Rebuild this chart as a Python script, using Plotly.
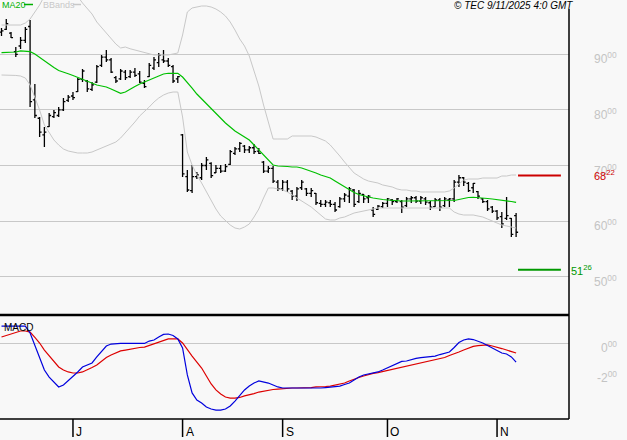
import pandas as pd
import plotly.graph_objects as go

# ---------------- data ----------------
dates = pd.bdate_range("2025-06-10", "2025-11-07")
month_labels = ["J", "A", "S", "O", "N"]

opens = [9400, 9450, 9380, 9050, 9150, 9250, 9500, 8180, 7850, 7550,
         7700, 7880, 7900, 8000, 8170, 8250, 8330, 8550, 8520, 8370,
         8500, 8800, 8950, 8900, 8580, 8560, 8680, 8600, 8680, 8650,
         8480, 8600, 8750, 8850, 8900, 8880, 8780, 8560, 7550, 6800,
         6550, 6800, 6780, 7000, 7040, 6870, 6950, 6900, 7020, 7220,
         7300, 7350, 7280, 7320, 7260, 7060, 6900, 6950, 6700, 6580,
         6700, 6540, 6450, 6600, 6580, 6500, 6500, 6320, 6300, 6330,
         6300, 6260, 6400, 6450, 6560, 6350, 6480, 6420, 6200, 6210,
         6260, 6320, 6380, 6350, 6350, 6280, 6400, 6420, 6360, 6400,
         6330, 6260, 6380, 6280, 6380, 6400, 6700, 6780, 6680, 6600,
         6530, 6400, 6350, 6250, 6180, 6080, 6050, 6050, 6100]
highs = [9473, 9635, 9401, 9132, 9311, 9491, 9617, 8466, 7873, 7693,
         7944, 7998, 8052, 8214, 8268, 8322, 8574, 8736, 8538, 8502,
         8808, 8988, 9078, 8934, 8610, 8736, 8718, 8718, 8754, 8700,
         8538, 8844, 8952, 9024, 9078, 8934, 8808, 8610, 7567, 6919,
         7009, 6883, 7045, 7153, 7060, 7009, 7009, 7027, 7279, 7333,
         7423, 7369, 7351, 7387, 7315, 7081, 6991, 6991, 6739, 6739,
         6739, 6559, 6613, 6739, 6595, 6595, 6505, 6380, 6380, 6380,
         6344, 6434, 6505, 6613, 6577, 6559, 6487, 6469, 6254, 6290,
         6344, 6416, 6398, 6416, 6380, 6434, 6451, 6451, 6451, 6434,
         6362, 6416, 6416, 6434, 6416, 6739, 6829, 6793, 6703, 6685,
         6541, 6416, 6380, 6272, 6200, 6164, 6434, 6056, 6146]
lows = [9329, 9437, 9293, 8952, 9096, 9203, 8052, 7854, 7513, 7333,
        7693, 7854, 7873, 7980, 8142, 8178, 8322, 8502, 8322, 8340,
        8484, 8772, 8862, 8664, 8484, 8538, 8538, 8574, 8592, 8484,
        8394, 8592, 8718, 8772, 8844, 8772, 8484, 8484, 6793, 6523,
        6505, 6757, 6739, 6919, 6775, 6865, 6865, 6883, 7009, 7189,
        7243, 7225, 7225, 7207, 7207, 6865, 6865, 6685, 6541, 6541,
        6523, 6380, 6362, 6559, 6451, 6433, 6290, 6254, 6254, 6254,
        6164, 6240, 6344, 6326, 6254, 6326, 6326, 6326, 6074, 6200,
        6236, 6254, 6290, 6326, 6146, 6254, 6326, 6326, 6308, 6290,
        6200, 6254, 6182, 6254, 6254, 6344, 6613, 6631, 6523, 6505,
        6398, 6326, 6182, 6146, 6020, 5876, 6020, 5714, 5714]
closes = [9420, 9550, 9300, 9000, 9250, 9450, 8150, 7900, 7600, 7600,
          7900, 7950, 8000, 8150, 8230, 8220, 8550, 8700, 8380, 8450,
          8780, 8950, 8900, 8680, 8520, 8700, 8580, 8680, 8620, 8500,
          8420, 8800, 8900, 8980, 8880, 8800, 8520, 8600, 6850, 6560,
          6800, 6830, 7000, 7100, 6820, 6950, 6900, 6980, 7250, 7300,
          7400, 7280, 7320, 7250, 7220, 6900, 6950, 6720, 6580, 6700,
          6580, 6450, 6580, 6700, 6500, 6550, 6330, 6300, 6340, 6300,
          6200, 6400, 6470, 6580, 6300, 6500, 6400, 6450, 6120, 6270,
          6320, 6400, 6350, 6400, 6250, 6400, 6420, 6360, 6420, 6340,
          6250, 6380, 6250, 6400, 6400, 6700, 6780, 6700, 6550, 6680,
          6450, 6350, 6220, 6180, 6060, 5950, 6100, 5760, 5800]

ma20 = [9029, 9029, 9033, 9042, 9063, 9060, 9047, 9006, 8943, 8880,
        8817, 8763, 8709, 8673, 8650, 8619, 8583, 8556, 8520, 8484,
        8448, 8430, 8412, 8376, 8331, 8299, 8322, 8376, 8421, 8466,
        8502, 8547, 8583, 8610, 8646, 8659, 8659, 8659, 8592, 8502,
        8394, 8286, 8196, 8106, 8017, 7927, 7855, 7765, 7693, 7621,
        7567, 7513, 7459, 7369, 7279, 7189, 7099, 7009, 6991, 6991,
        6982, 6973, 6973, 6955, 6928, 6892, 6865, 6829, 6802, 6775,
        6721, 6668, 6614, 6560, 6515, 6479, 6452, 6434, 6416, 6398,
        6389, 6380, 6371, 6362, 6362, 6362, 6362, 6362, 6362, 6362,
        6362, 6362, 6362, 6362, 6362, 6371, 6389, 6407, 6425, 6429,
        6425, 6416, 6407, 6398, 6389, 6380, 6367, 6353, 6338]
bb_upper = [9527, 9527, 9527, 9527, 9527, 9563, 9635, 9761, 9887, 10050,
            10150, 10200, 10220, 10200, 10180, 10120, 10040, 9923, 9833, 9725,
            9581, 9480, 9383, 9280, 9185, 9114, 9131, 9100, 9078, 9050,
            9024, 9000, 8988, 8988, 8988, 8988, 9006, 9024, 9347, 9761,
            9833, 9851, 9869, 9869, 9851, 9815, 9761, 9689, 9581, 9437,
            9275, 9150, 8970, 8700, 8430, 8088, 7764, 7477, 7477, 7477,
            7477, 7531, 7531, 7531, 7531, 7531, 7513, 7477, 7441, 7369,
            7279, 7171, 7063, 6955, 6865, 6811, 6757, 6721, 6703, 6685,
            6650, 6632, 6614, 6578, 6560, 6560, 6542, 6542, 6524, 6524,
            6524, 6524, 6524, 6524, 6542, 6596, 6668, 6739, 6757, 6757,
            6757, 6775, 6775, 6775, 6775, 6811, 6811, 6829, 6829]
bb_lower = [8628, 8628, 8628, 8620, 8610, 8574, 8448, 8232, 7998, 7729,
            7585, 7459, 7369, 7297, 7261, 7243, 7225, 7225, 7225, 7243,
            7279, 7315, 7351, 7387, 7423, 7495, 7585, 7675, 7783, 7891,
            7963, 8052, 8142, 8214, 8268, 8304, 8322, 8322, 7873, 7243,
            7009, 6829, 6685, 6524, 6380, 6218, 6092, 6002, 5930, 5876,
            5858, 5894, 5948, 6074, 6218, 6416, 6596, 6596, 6578, 6560,
            6524, 6470, 6416, 6362, 6308, 6254, 6182, 6110, 6038, 6020,
            6020, 6056, 6074, 6110, 6146, 6164, 6182, 6200, 6218, 6236,
            6236, 6236, 6236, 6236, 6236, 6236, 6236, 6236, 6236, 6236,
            6236, 6236, 6236, 6236, 6236, 6164, 6128, 6110, 6110, 6110,
            6092, 6074, 6038, 6002, 5966, 5930, 5912, 5894, 5876]

macd = [115, 115, 115, 115, 115, 115, 69, -11, -98, -178,
        -225, -258, -291, -278, -251, -218, -191, -158, -145, -131,
        -91, -51, -18, -5, -1, -1, -1, -1, -1, -5,
        -1, 15, 22, 42, 59, 62, 52, 29, -31, -211,
        -331, -378, -398, -425, -438, -445, -445, -438, -418, -385,
        -351, -311, -285, -265, -251, -258, -265, -278, -291, -298,
        -298, -301, -298, -298, -298, -298, -298, -298, -295, -291,
        -291, -285, -275, -265, -245, -225, -211, -205, -201, -191,
        -178, -165, -151, -135, -121, -118, -108, -101, -95, -91,
        -88, -85, -75, -65, -58, -28, 5, 22, 29, 25,
        15, 2, -15, -31, -51, -65, -71, -91, -125]
signal = [42, 52, 62, 72, 82, 82, 75, 39, 2, -45,
          -85, -125, -158, -178, -191, -198, -198, -191, -178, -161,
          -145, -118, -95, -78, -65, -51, -45, -38, -31, -28,
          -25, -15, -5, 5, 19, 29, 29, 29, 2, -45,
          -85, -125, -165, -218, -271, -311, -338, -358, -365, -365,
          -361, -351, -345, -335, -325, -318, -311, -308, -305, -301,
          -298, -298, -298, -298, -295, -295, -291, -291, -288, -285,
          -278, -271, -265, -251, -238, -228, -218, -208, -201, -195,
          -188, -181, -175, -168, -161, -155, -148, -141, -131, -125,
          -118, -111, -105, -95, -81, -71, -58, -45, -31, -21,
          -15, -11, -11, -18, -25, -35, -45, -55, -65]

price_ticks = [5000, 6000, 7000, 8000, 9000]
macd_ticks = [0, -200]
resistance = 6822
support = 5126

n = len(dates)
for arr in (opens, highs, lows, closes, ma20, bb_upper, bb_lower, macd, signal):
    assert len(arr) == n, len(arr)

x = list(range(n))
month_idx = [i for i in range(1, n) if dates[i].month != dates[i - 1].month]

# ---------------- geometry ----------------
W, H = 627, 440
PL, PR, PT, PB = 0, 569, 0, 419   # plot box in px
plot_h = PB - PT
split_top = 315   # bottom of price pane (px)
macd_top = 316

def py(px_y):
    return (PB - px_y) / plot_h

def pxp(px_x):
    return (px_x - PL) / (PR - PL)

FONT = "Liberation Sans, Arial, sans-serif"
BG = "#f8f8f8"
GRID = "#c8c8c8"
LABEL = "#c4c4c4"

fig = go.Figure()

# Bollinger bands
fig.add_trace(go.Scatter(x=x, y=bb_upper, mode="lines", line=dict(color="#c8c8c8", width=1),
                         xaxis="x", yaxis="y", hoverinfo="skip", showlegend=False))
fig.add_trace(go.Scatter(x=x, y=bb_lower, mode="lines", line=dict(color="#c8c8c8", width=1),
                         xaxis="x", yaxis="y", hoverinfo="skip", showlegend=False))
# MA20
fig.add_trace(go.Scatter(x=x, y=ma20, mode="lines", line=dict(color="#00c000", width=1.2),
                         xaxis="x", yaxis="y", hoverinfo="skip", showlegend=False))
# OHLC
fig.add_trace(go.Ohlc(x=x, open=opens, high=highs, low=lows, close=closes,
                      increasing=dict(line=dict(color="black", width=1.3)),
                      decreasing=dict(line=dict(color="black", width=1.3)),
                      tickwidth=0.42, xaxis="x", yaxis="y", hoverinfo="skip", showlegend=False))
# target lines
tx = [n - 1 + 0.4, n - 1 + 9.4]
fig.add_trace(go.Scatter(x=tx, y=[resistance] * 2, mode="lines", line=dict(color="#cc0000", width=2),
                         xaxis="x", yaxis="y", hoverinfo="skip", showlegend=False))
fig.add_trace(go.Scatter(x=tx, y=[support] * 2, mode="lines", line=dict(color="#009900", width=2),
                         xaxis="x", yaxis="y", hoverinfo="skip", showlegend=False))
# MACD
fig.add_trace(go.Scatter(x=x, y=signal, mode="lines", line=dict(color="#dd0000", width=1.2),
                         xaxis="x2", yaxis="y2", hoverinfo="skip", showlegend=False))
fig.add_trace(go.Scatter(x=x, y=macd, mode="lines", line=dict(color="#0000dd", width=1.2),
                         xaxis="x2", yaxis="y2", hoverinfo="skip", showlegend=False))

# axis ranges derived from pixel layout
x_lo, x_hi = -0.315, 119.1
p_hi = 9977
p_per_px = 17.986
p_lo = p_hi - p_per_px * (split_top - PT)
m_zero_px, m_per_px = 343.3, 6.667
m_hi = (m_zero_px - macd_top) * m_per_px
m_lo = (m_zero_px - PB) * m_per_px

fig.update_layout(
    width=W, height=H,
    margin=dict(l=PL, r=W - PR, t=PT, b=H - PB),
    paper_bgcolor=BG, plot_bgcolor=BG,
    hovermode=False,
    showlegend=False,
    xaxis=dict(domain=[0, 1], anchor="y", range=[x_lo, x_hi], showticklabels=False,
               showgrid=False, zeroline=False, rangeslider=dict(visible=False), fixedrange=True),
    xaxis2=dict(domain=[0, 1], anchor="y2", range=[x_lo, x_hi], showticklabels=False,
                showgrid=False, zeroline=False, fixedrange=True),
    yaxis=dict(domain=[py(split_top), 1], range=[p_lo, p_hi], tickvals=price_ticks,
               showticklabels=False, gridcolor=GRID, gridwidth=1, zeroline=False, fixedrange=True),
    yaxis2=dict(domain=[0, py(macd_top)], range=[m_lo, m_hi], tickvals=[0],
                showticklabels=False, gridcolor=GRID, gridwidth=1, zeroline=False, fixedrange=True),
)

def fmt(v):
    v = int(v)
    sign = "-" if v < 0 else ""
    a = abs(v)
    return f"{sign}{a // 100}<sup>{a % 100:02d}</sup>"

ann = []
for v in price_ticks:
    ann.append(dict(x=pxp(619), xref="paper", y=v, yref="y", text=fmt(v), showarrow=False,
                    xanchor="right", yanchor="middle", yshift=-4,
                    font=dict(family=FONT, size=12, color=LABEL)))
for v in macd_ticks:
    ann.append(dict(x=pxp(619), xref="paper", y=v, yref="y2", text=fmt(v), showarrow=False,
                    xanchor="right", yanchor="middle", yshift=-4,
                    font=dict(family=FONT, size=12, color=LABEL)))
ann.append(dict(x=pxp(592), xref="paper", y=resistance, yref="y", text=fmt(resistance), showarrow=False,
                xanchor="left", yanchor="middle", font=dict(family=FONT, size=11, color="#cc0000")))
ann.append(dict(x=pxp(569), xref="paper", y=support, yref="y", text=fmt(support), showarrow=False,
                xanchor="left", yanchor="middle", font=dict(family=FONT, size=11, color="#009900")))
# month labels
for i, lab in zip(month_idx, month_labels):
    ann.append(dict(x=i, xref="x2", y=py(432), yref="paper", text=lab, showarrow=False,
                    xanchor="left", yanchor="middle", xshift=1,
                    font=dict(family=FONT, size=12, color="black")))
# legend & titles
ann.append(dict(x=pxp(0), xref="paper", y=py(5), yref="paper", text="MA20", showarrow=False,
                xanchor="left", yanchor="middle", font=dict(family=FONT, size=9, color="#00b000")))
ann.append(dict(x=pxp(41), xref="paper", y=py(5), yref="paper", text="BBands", showarrow=False,
                xanchor="left", yanchor="middle", font=dict(family=FONT, size=9, color="#c8c8c8")))
ann.append(dict(x=pxp(2), xref="paper", y=py(327), yref="paper", text="MACD", showarrow=False,
                xanchor="left", yanchor="middle", font=dict(family=FONT, size=10, color="black")))
ann.append(dict(x=pxp(575), xref="paper", y=py(5), yref="paper", text="<i>© TEC 9/11/2025 4:0 GMT</i>",
                showarrow=False, xanchor="right", yanchor="middle",
                font=dict(family=FONT, size=10, color="black")))

shapes = [
    dict(type="line", xref="paper", yref="paper", x0=pxp(24), x1=pxp(33), y0=py(4.5), y1=py(4.5),
         line=dict(color="#00b000", width=1.5)),
    dict(type="line", xref="paper", yref="paper", x0=pxp(73), x1=pxp(81), y0=py(4.5), y1=py(4.5),
         line=dict(color="#c8c8c8", width=1.5)),
    dict(type="line", xref="paper", yref="paper", x0=0, x1=1, y0=py(315), y1=py(315),
         line=dict(color="black", width=2.5)),
    dict(type="line", xref="paper", yref="paper", x0=0, x1=1, y0=py(419), y1=py(419),
         line=dict(color="black", width=1.5)),
    dict(type="line", xref="paper", yref="paper", x0=1, x1=1, y0=py(419), y1=py(9),
         line=dict(color="black", width=1.5)),
]
for i in month_idx:
    shapes.append(dict(type="line", xref="x2", yref="paper", x0=i, x1=i, y0=py(419), y1=py(437),
                       line=dict(color="black", width=1.5)))

fig.update_layout(annotations=ann, shapes=shapes)
fig.write_html(
    "out.html",
    config={"displayModeBar": False, "staticPlot": True},
    post_script="document.body.style.margin='0px';document.body.style.overflow='hidden';",
)
